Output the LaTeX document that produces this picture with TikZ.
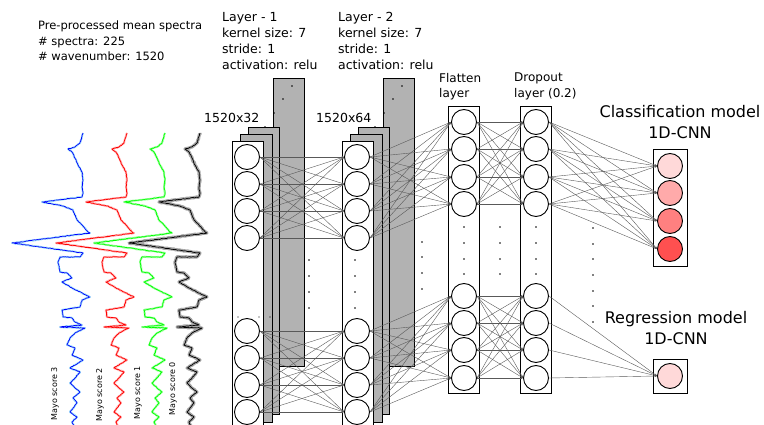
\documentclass[tikz,border=0pt]{standalone}
\usepackage{fontspec}
\setmainfont{DejaVu Sans}
\usetikzlibrary{arrows.meta,positioning,calc,fit,decorations.pathmorphing}

\definecolor{out1}{RGB}{255,217,217}
\definecolor{out2}{RGB}{255,170,170}
\definecolor{out3}{RGB}{255,128,128}
\definecolor{out4}{RGB}{255,80,80}

\begin{document}
\begin{tikzpicture}[x=1pt, y=-1pt,
    neuron/.style={circle, draw, line width=0.9pt, minimum size=25pt, inner sep=0pt, fill=white},
    column/.style={rectangle, draw, line width=0.8pt, inner sep=2.5pt},
    kernel/.style={draw, line width=0.8pt, fill=black!30},
    link/.style={-{Stealth[length=2.5pt, width=2pt]}, black!65, line width=0.4pt},
    info/.style={align=left, anchor=north west, inner sep=0pt},
    modeltitle/.style={align=center, anchor=north, inner sep=0pt, font=\fontsize{16}{21}\selectfont},
    mayo/.style={rotate=90, anchor=east, inner sep=0pt, font=\fontsize{8}{10}\selectfont},
    noisy/.style={decorate, decoration={random steps, segment length=1.2pt, amplitude=0.35pt}},
    spectrum/.pic={
        \draw[pic actions, noisy, line join=round] plot coordinates {
            (0,133) (-3,143) (-8,147) (-15,149) (-11,152) (-8,158) (-5,165) (-1,172)
            (0,180) (-1,187) (0,193) (-1,197) (-41,202) (-20,206) (-10,210) (-6,220)
            (-1,225) (5,232) (7,233) (-71,243) (0,253) (-3,257) (-23,257) (-25,262)
            (-23,272) (-16,273) (-11,278) (-21,282) (-11,288) (7,297) (-1,300) (-3,307)
            (-21,310) (-20,317) (-11,318) (-8,322) (-1,325) (-23,327) (2,328) (-8,333)
            (-13,338) (-16,345) (-8,348) (-11,355) (0,360) (-13,368) (-3,372) (-8,378)
            (-13,383) (-8,388) (-3,392) (-10,398) (-6,403) (-13,412) (-6,417) (-11,422)
            (-8,428)};
    }
]
\pgfmathsetseed{7}
\useasboundingbox (0,0) rectangle (764,425);
\clip (0,0) rectangle (764,425);

% input spectra
\pic[draw=cyan!35, line width=2pt] at (83,0) {spectrum};
\pic[draw=blue, line width=0.7pt] at (83,0) {spectrum};
\pic[draw=red!30, line width=2pt] at (127,0) {spectrum};
\pic[draw=red, line width=0.7pt] at (127,0) {spectrum};
\pic[draw=green!35, line width=2pt] at (165,0) {spectrum};
\pic[draw=green, line width=0.7pt] at (165,0) {spectrum};
\pic[draw=black!35, line width=3.2pt] at (200,0) {spectrum};
\pic[draw=black, line width=0.7pt] at (200,0) {spectrum};

\node[mayo] (m3) at (55,367) {Mayo score 3};
\node[mayo] (m2) at (100,368) {Mayo score 2};
\node[mayo] (m1) at (138,366) {Mayo score 1};
\node[mayo] (m0) at (173,362) {Mayo score 0};

\node[info, font=\fontsize{11.5}{15.5}\selectfont] (prep) at (38,21)
    {Pre-processed mean spectra\\\# spectra: 225\\\# wavenumber: 1520};

% conv layers
\foreach \s in {0,110} {
    \draw[kernel] (273+\s,78) rectangle (304+\s,366);
    \draw[kernel] (248+\s,127) rectangle (279+\s,414);
    \draw[kernel] (240+\s,134) rectangle (272+\s,422);
    \draw[line width=0.8pt, fill=white] (232+\s,141) rectangle (263+\s,440);
    \foreach \x/\y in {265/127,274/113,283/99,292/86}
        \fill (\x+\s,\y) circle (0.8pt);
}
\foreach \x in {238,259,270}
    \fill (\x,317) circle (0.6pt);

\node[info, font=\fontsize{12.5}{16}\selectfont] (lay1) at (222,12.5)
    {Layer - 1\\kernel size: 7\\stride: 1\\activation: relu};
\node[info, font=\fontsize{12.5}{16}\selectfont] (lay2) at (338,12.5)
    {Layer - 2\\kernel size: 7\\stride: 1\\activation: relu};
\node[anchor=west, inner sep=0pt, font=\fontsize{12.5}{15}\selectfont] (sz1) at (204,118) {1520x32};
\node[anchor=west, inner sep=0pt, font=\fontsize{12.5}{15}\selectfont] (sz2) at (316,118) {1520x64};

\foreach \i/\y in {1/157,2/184,3/211,4/238,5/331,6/358,7/385,8/412} {
    \node[neuron] (ca\i) at (247,\y) {};
    \node[neuron] (cb\i) at (357,\y) {};
}

% dense part
\foreach \i/\y in {1/122,2/149,3/177,4/204,5/296,6/323,7/350,8/378} {
    \node[neuron] (f\i) at (464,\y) {};
    \node[neuron] (d\i) at (536,\y) {};
}
\node[column, fit=(f1)(f8)] (flat) {};
\node[column, fit=(d1)(d8)] (drop) {};

\node[info, font=\fontsize{12}{15.5}\selectfont] (flatlbl) at (439,73) {Flatten\\layer};
\node[info, font=\fontsize{12}{15.5}\selectfont] (droplbl) at (514,73) {Dropout\\layer (0.2)};

\foreach \i/\y in {1/166,2/193,3/221,4/249}
    \node[neuron, fill=out\i] (o\i) at (670,\y) {};
\node[neuron, fill=out1] (r1) at (670,376) {};
\node[column, inner sep=4pt, fit=(o1)(o4)] (cls) {};
\node[column, inner sep=4pt, fit=(r1)] (reg) {};

\node[modeltitle] (clslbl) at (680,105.5) {Classification model\\1D-CNN};
\node[modeltitle] (reglbl) at (676,311.5) {Regression model\\1D-CNN};

% dots
\foreach \y in {260,276,292,308} {
    \fill (309,\y) circle (0.8pt);
    \fill (355,\y) circle (0.8pt);
}
\foreach \y in {242,257,273,289}
    \fill (422,\y) circle (0.8pt);
\foreach \y in {227,243,259,274} {
    \fill (464,\y) circle (0.8pt);
    \fill (500,\y) circle (0.8pt);
    \fill (536,\y) circle (0.8pt);
}
\foreach \y in {228,244,259,275,291,306,322}
    \fill (593,\y) circle (0.8pt);

% connections
\foreach \i in {1,...,4}
    \foreach \j in {1,...,4} {
        \draw[link] (ca\i.east) -- (cb\j.west);
        \draw[link] (cb\i.east) -- (f\j.west);
        \draw[link] (f\i.east) -- (d\j.west);
        \draw[link] (d\i.east) -- (o\j.west);
    }
\foreach \i in {5,...,8} {
    \foreach \j in {5,...,8} {
        \draw[link] (ca\i.east) -- (cb\j.west);
        \draw[link] (cb\i.east) -- (f\j.west);
        \draw[link] (f\i.east) -- (d\j.west);
    }
    \draw[link] (d\i.east) -- (r1.west);
}

\end{tikzpicture}
\end{document}
